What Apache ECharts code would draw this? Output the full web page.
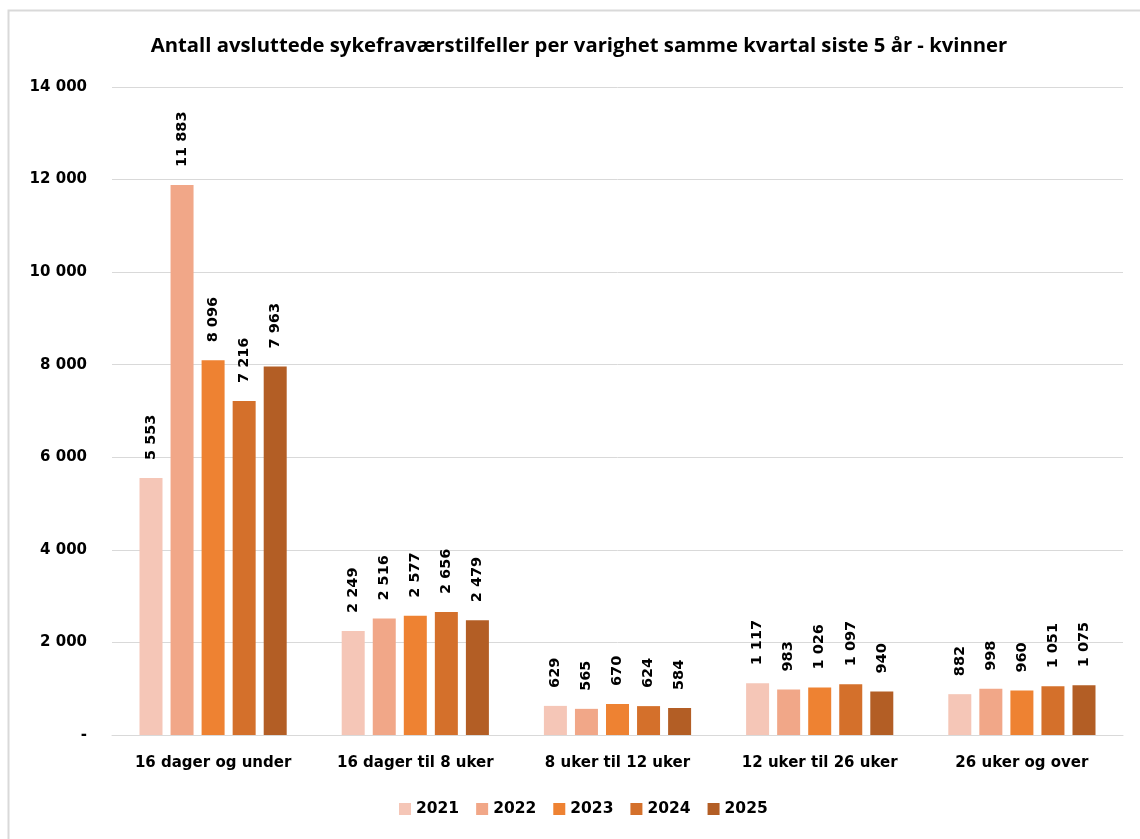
<!DOCTYPE html>
<html><head><meta charset="utf-8">
<script src="https://cdn.jsdelivr.net/npm/echarts@6/dist/echarts.min.js"></script>
<style>html,body{margin:0;padding:0;background:#fff}#c{width:1140px;height:839px}</style>
</head><body><div id="c"></div>
<script>
const categories = ["16 dager og under","16 dager til 8 uker","8 uker til 12 uker","12 uker til 26 uker","26 uker og over"];
const years = ["2021","2022","2023","2024","2025"];
const v2021 = [5553, 2249, 629, 1117, 882];
const v2022 = [11883, 2516, 565, 983, 998];
const v2023 = [8096, 2577, 670, 1026, 960];
const v2024 = [7216, 2656, 624, 1097, 1051];
const v2025 = [7963, 2479, 584, 940, 1075];
const yTicks = [0, 2000, 4000, 6000, 8000, 10000, 12000, 14000];
const colors = ["#F5C6B7","#F1A788","#EE8232","#D4702B","#B35E25"];
const values = [v2021, v2022, v2023, v2024, v2025];
const fmt = v => v === 0 ? "-" : String(v).replace(/\B(?=(\d{3})+(?!\d))/g, " ");
const titleFont = "'Open Sans', sans-serif";
const font = "'DejaVu Sans', sans-serif";
const chart = echarts.init(document.getElementById('c'), null, {renderer:'canvas'});
chart.setOption({
  animation: false,
  color: colors,
  graphic: [{type:'rect', shape:{x:8.5,y:10.5,width:1200,height:900}, style:{fill:'none', stroke:'#d9d9d9', lineWidth:2}, silent:true}],
  title: {text: "Antall avsluttede sykefraværstilfeller per varighet samme kvartal siste 5 år - kvinner", left: 574, textAlign:'center', top: 31,
    textStyle:{fontFamily:titleFont, fontWeight:'bold', fontSize:20.3, color:'#000'}},
  legend: {data: years, bottom: 17, left: 394, itemWidth: 12, itemHeight: 12, itemGap: 17, icon:'rect',
    textStyle:{fontFamily:font, fontWeight:'bold', fontSize:15.5, color:'#000'}},
  grid: {left: 112, right: 17, top: 87, bottom: 104, containLabel:false},
  xAxis: {type:'category', data: categories,
    axisLine:{lineStyle:{color:'#d9d9d9', width:1}}, axisTick:{show:false},
    axisLabel:{interval:0, hideOverlap:false, fontFamily:font, fontWeight:'bold', fontSize:15, color:'#000', margin:21}},
  yAxis: {type:'value', min:0, max:14000, interval:2000,
    axisLine:{show:false}, axisTick:{show:false},
    splitLine:{lineStyle:{color:'#d9d9d9', width:1}},
    axisLabel:{fontFamily:font, fontWeight:'bold', fontSize:15, color:'#000', margin:25, formatter: v => fmt(v)}},
  series: years.map((y, i) => ({
    name: y, type:'bar', data: values[i], barWidth: 23, barGap: '35%', barCategoryGap: '28%',
    label: {show:true, position:'top', rotate:90, align:'left', verticalAlign:'middle', distance: 18,
      fontFamily:font, fontWeight:'bold', fontSize:14.5, color:'#000', formatter: p => fmt(p.value)}
  }))
});
</script></body></html>
